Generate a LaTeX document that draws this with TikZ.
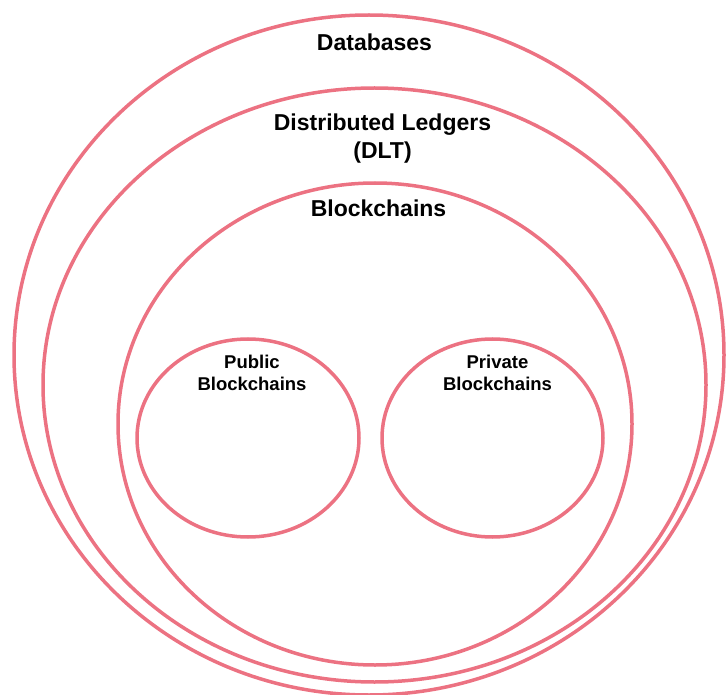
\documentclass[tikz,border=0pt]{standalone}
\usepackage{fontspec}
\setmainfont{Liberation Sans}
\usetikzlibrary{shapes.geometric}
\definecolor{setred}{RGB}{236,114,130}
\begin{document}
\begin{tikzpicture}[x=1pt,y=-1pt,inner sep=0pt,outer sep=0pt,
setring/.style={draw=setred,ellipse,line width=3.5pt},
biglabel/.style={font=\fontsize{23}{28}\selectfont\bfseries,align=center,anchor=north},
smalllabel/.style={font=\fontsize{18.5}{22.5}\selectfont\bfseries,align=center,anchor=north}]
\useasboundingbox (0,0) rectangle (726,695);
\clip (0,0) rectangle (726,695);
\draw (369,355) node[setring,minimum width=710pt,minimum height=680pt] (db) {};
\draw (374.5,385) node[setring,minimum width=663pt,minimum height=594pt] (dlt) {};
\draw (375,424) node[setring,minimum width=514pt,minimum height=482pt] (bc) {};
\draw (248,438) node[setring,minimum width=222pt,minimum height=198pt] (pub) {};
\draw (492.5,438) node[setring,minimum width=221pt,minimum height=198pt] (priv) {};
\draw ([xshift=5.5pt,yshift=-19pt]db.north) node[biglabel] (dbtext) {Databases};
\draw ([xshift=8pt,yshift=-26pt]dlt.north) node[biglabel] (dlttext) {Distributed Ledgers\\(DLT)};
\draw ([xshift=3.5pt,yshift=-17pt]bc.north) node[biglabel] (bctext) {Blockchains};
\draw ([xshift=4pt,yshift=-16pt]pub.north) node[smalllabel] (pubtext) {Public\\Blockchains};
\draw ([xshift=5pt,yshift=-16pt]priv.north) node[smalllabel] (privtext) {Private\\Blockchains};
\end{tikzpicture}
\end{document}
